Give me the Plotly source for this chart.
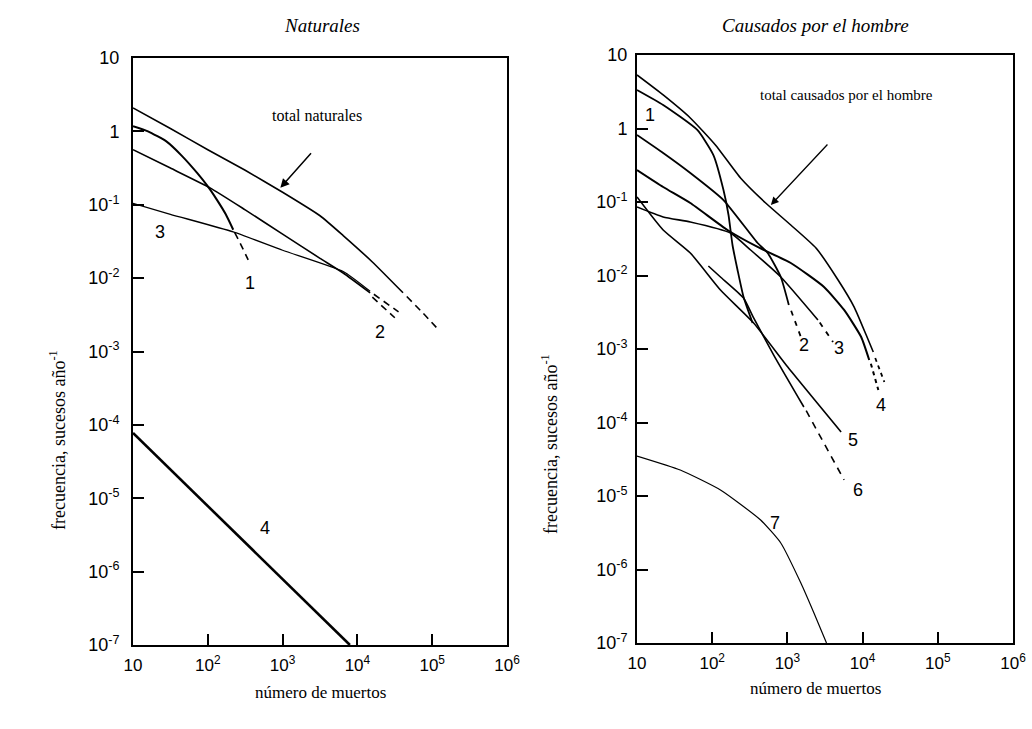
import plotly.graph_objects as go

# ---------------- DATA (log10 values) ----------------
# x = log10(número de muertos), y = log10(frecuencia, sucesos/año)
# Left panel: Naturales
nat_total_x = [1.0, 1.5, 2.0, 2.5, 3.0, 3.5, 3.81, 4.2, 4.61]
nat_total_y = [0.32, 0.04, -0.25, -0.53, -0.83, -1.15, -1.42, -1.78, -2.2]
nat_total_dash_x = [4.66, 4.88, 5.1]
nat_total_dash_y = [-2.25, -2.48, -2.72]

nat1_x = [1.0, 1.2, 1.45, 1.65, 1.86, 2.0, 2.12, 2.24, 2.34]
nat1_y = [0.07, 0.0, -0.14, -0.33, -0.57, -0.75, -0.93, -1.13, -1.34]
nat1_dash_x = [2.36, 2.45, 2.54]
nat1_dash_y = [-1.38, -1.56, -1.75]

nat2_x = [1.0, 1.5, 2.03, 2.5, 3.0, 3.5, 3.81, 4.17]
nat2_y = [-0.25, -0.5, -0.77, -1.07, -1.40, -1.73, -1.93, -2.2]
nat2_dash_x = [4.22, 4.55]
nat2_dash_y = [-2.22, -2.46]

nat3_x = [1.0, 1.5, 2.34, 3.0, 3.81, 4.17]
nat3_y = [-0.98, -1.13, -1.37, -1.62, -1.91, -2.18]
nat3_dash_x = [4.2, 4.5]
nat3_dash_y = [-2.26, -2.54]

nat4_x = [1.0, 3.9]
nat4_y = [-4.11, -7.0]

# Right panel: Causados por el hombre
man_total_x = [1.0, 1.348, 1.709, 2.043, 2.377, 2.711, 3.045, 3.38, 3.674, 3.888, 4.048, 4.142]
man_total_y = [0.728, 0.456, 0.143, -0.224, -0.673, -1.014, -1.313, -1.626, -2.061, -2.429, -2.81, -3.041]
man_total_dash_x = [4.168, 4.289]
man_total_dash_y = [-3.122, -3.449]

man1_x = [1.0, 1.348, 1.802, 2.016, 2.15, 2.217, 2.27, 2.337, 2.417, 2.537]
man1_y = [0.524, 0.32, -0.02, -0.361, -0.837, -1.177, -1.585, -1.925, -2.293, -2.646]

man2_x = [1.0, 1.348, 1.709, 2.15, 2.604, 2.738, 2.912, 3.019]
man2_y = [-0.088, -0.333, -0.605, -0.973, -1.558, -1.694, -2.02, -2.401]
man2_dash_x = [3.05, 3.179]
man2_dash_y = [-2.48, -2.837]

man3_x = [1.0, 1.348, 1.709, 2.243, 2.511, 2.912, 3.406]
man3_y = [-1.068, -1.204, -1.272, -1.422, -1.653, -2.02, -2.605]
man3_dash_x = [3.43, 3.607]
man3_dash_y = [-2.64, -2.905]

man4_x = [1.0, 1.348, 1.709, 2.203, 2.604, 3.045, 3.487, 3.754, 3.981, 4.088]
man4_y = [-0.565, -0.796, -1.014, -1.381, -1.612, -1.83, -2.156, -2.469, -2.837, -3.15]
man4_dash_x = [4.11, 4.209]
man4_dash_y = [-3.2, -3.558]

man5_x = [1.0, 1.348, 1.709, 2.11, 2.551, 3.005, 3.714]
man5_y = [-0.932, -1.381, -1.694, -2.197, -2.646, -3.245, -4.129]

man6_x = [1.949, 2.11, 2.417, 2.551, 2.818, 3.219]
man6_y = [-1.871, -2.02, -2.306, -2.578, -3.082, -3.789]
man6_dash_x = [3.25, 3.754]
man6_dash_y = [-3.84, -4.782]

man7_x = [1.0, 1.575, 2.11, 2.644, 2.912, 3.179, 3.353, 3.52]
man7_y = [-4.456, -4.646, -4.918, -5.327, -5.639, -6.184, -6.592, -7.0]

x_tickvals = [10, 100, 1000, 10000, 100000, 1000000]
x_ticktext = ["10", "10<sup>2</sup>", "10<sup>3</sup>", "10<sup>4</sup>", "10<sup>5</sup>", "10<sup>6</sup>"]
y_tickvals = [10, 1, 1e-1, 1e-2, 1e-3, 1e-4, 1e-5, 1e-6, 1e-7]
y_ticktext = ["10", "1", "10<sup>-1</sup>", "10<sup>-2</sup>", "10<sup>-3</sup>", "10<sup>-4</sup>",
              "10<sup>-5</sup>", "10<sup>-6</sup>", "10<sup>-7</sup>"]

# ---------------- FIGURE ----------------
SANS = "Liberation Sans Narrow, Liberation Sans, Arial, sans-serif"
SERIF = "Liberation Serif, Times New Roman, serif"
W, H = 1032, 729
fig = go.Figure()


def add(xs, ys, ax, width=1.8, dash=None):
    fig.add_trace(go.Scatter(
        x=[10 ** v for v in xs], y=[10 ** v for v in ys], mode="lines",
        line=dict(color="black", width=width, dash=dash, shape="spline", smoothing=0.5),
        xaxis="x" if ax == 1 else "x2", yaxis="y" if ax == 1 else "y2",
        showlegend=False, hoverinfo="skip"))


DASH = "7px,5px"
add(nat_total_x, nat_total_y, 1, 1.6)
add(nat_total_dash_x, nat_total_dash_y, 1, 1.6, DASH)
add(nat1_x, nat1_y, 1, 2.0)
add(nat1_dash_x, nat1_dash_y, 1, 1.6, DASH)
add(nat2_x, nat2_y, 1, 1.6)
add(nat2_dash_x, nat2_dash_y, 1, 1.6, DASH)
add(nat3_x, nat3_y, 1, 1.3)
add(nat3_dash_x, nat3_dash_y, 1, 1.6, DASH)
add(nat4_x, nat4_y, 1, 2.6)

add(man_total_x, man_total_y, 2, 1.6)
add(man_total_dash_x, man_total_dash_y, 2, 1.8, "4px,4px")
add(man1_x, man1_y, 2, 1.8)
add(man2_x, man2_y, 2, 1.8)
add(man2_dash_x, man2_dash_y, 2, 1.8, "5px,6px")
add(man3_x, man3_y, 2, 1.6)
add(man3_dash_x, man3_dash_y, 2, 1.8, "5px,6px")
add(man4_x, man4_y, 2, 2.0)
add(man4_dash_x, man4_dash_y, 2, 2.0, "4px,4px")
add(man5_x, man5_y, 2, 1.6)
add(man6_x, man6_y, 2, 1.6)
add(man6_dash_x, man6_dash_y, 2, 1.6, "7px,6px")
add(man7_x, man7_y, 2, 1.2)

axis_common = dict(
    type="log", showgrid=False, zeroline=False, showline=True, mirror=True, automargin=False,
    linecolor="black", linewidth=2, ticks="inside", ticklen=11, tickcolor="black",
    tickwidth=1.5, tickfont=dict(family=SANS, size=18, color="black"),
)
xtickfont = dict(family=SANS, size=17, color="black")

fig.update_layout(
    width=W, height=H, margin=dict(l=0, r=0, t=0, b=0, autoexpand=False),
    paper_bgcolor="white", plot_bgcolor="white",
    xaxis=dict(axis_common, domain=[133 / W, 507 / W], range=[1, 6], anchor="y", tickfont=xtickfont,
               tickvals=x_tickvals, ticktext=x_ticktext, ticklabelstandoff=4),
    yaxis=dict(axis_common, domain=[(H - 645) / H, (H - 58) / H], range=[-7, 1], anchor="x",
               tickvals=y_tickvals, ticktext=y_ticktext, ticklabelstandoff=8),
    xaxis2=dict(axis_common, domain=[637 / W, 1013 / W], range=[1, 6], anchor="y2", tickfont=xtickfont,
                tickvals=x_tickvals, ticktext=x_ticktext, ticklabelstandoff=4),
    yaxis2=dict(axis_common, domain=[(H - 643) / H, (H - 55) / H], range=[-7, 1], anchor="x2",
                tickvals=y_tickvals, ticktext=y_ticktext, ticklabelstandoff=4),
)


def paper_text(text, px, py, size, angle=0, family=SERIF):
    return dict(text=text, x=px / W, y=1 - py / H, xref="paper", yref="paper",
                xanchor="center", yanchor="middle", textangle=angle, showarrow=False,
                font=dict(family=family, size=size, color="black"))


ann = []
ann.append(paper_text("<i>Naturales</i>", 322, 25, 19))
ann.append(paper_text("<i>Causados por el hombre</i>", 815, 25, 19))
ann.append(paper_text("número de muertos", 320, 692, 17))
ann.append(paper_text("número de muertos", 815, 688, 17))
ann.append(paper_text("frecuencia, sucesos año<sup>-1</sup>", 58, 440, 18, -90))
ann.append(paper_text("frecuencia, sucesos año<sup>-1</sup>", 549, 444, 18, -90))

# in-plot texts
ann.append(dict(text="total naturales", x=3.46, y=0.22, xref="x", yref="y", showarrow=False,
                xanchor="center", yanchor="middle", font=dict(family=SERIF, size=16, color="black")))
ann.append(dict(text="", x=2.97, y=-0.77, xref="x", yref="y", ax=32, ay=-36, showarrow=True,
                arrowhead=2, arrowsize=1.2, arrowwidth=1.5, arrowcolor="black"))
ann.append(dict(text="total causados por el hombre", x=3.78, y=0.46, xref="x2", yref="y2", showarrow=False,
                xanchor="center", yanchor="middle", font=dict(family=SERIF, size=15, color="black")))
ann.append(dict(text="", x=2.78, y=-1.04, xref="x2", yref="y2", ax=58, ay=-62, showarrow=True,
                arrowhead=2, arrowsize=1.2, arrowwidth=1.3, arrowcolor="black"))

left_labels = [("1", 2.56, -2.07), ("2", 4.30, -2.73), ("3", 1.36, -1.37), ("4", 2.76, -5.40)]
right_labels = [("1", 1.17, 0.18), ("2", 3.22, -2.95), ("3", 3.69, -2.99), ("4", 4.25, -3.76),
                ("5", 3.87, -4.24), ("6", 3.94, -4.92), ("7", 2.84, -5.37)]
for t, x, y in left_labels:
    ann.append(dict(text=t, x=x, y=y, xref="x", yref="y", showarrow=False,
                    xanchor="center", yanchor="middle", font=dict(family=SANS, size=18, color="black")))
for t, x, y in right_labels:
    ann.append(dict(text=t, x=x, y=y, xref="x2", yref="y2", showarrow=False,
                    xanchor="center", yanchor="middle", font=dict(family=SANS, size=18, color="black")))
fig.update_layout(annotations=ann)

fig.write_html("out.html", config={"displayModeBar": False},
               post_script="document.body.style.margin='0px';")
